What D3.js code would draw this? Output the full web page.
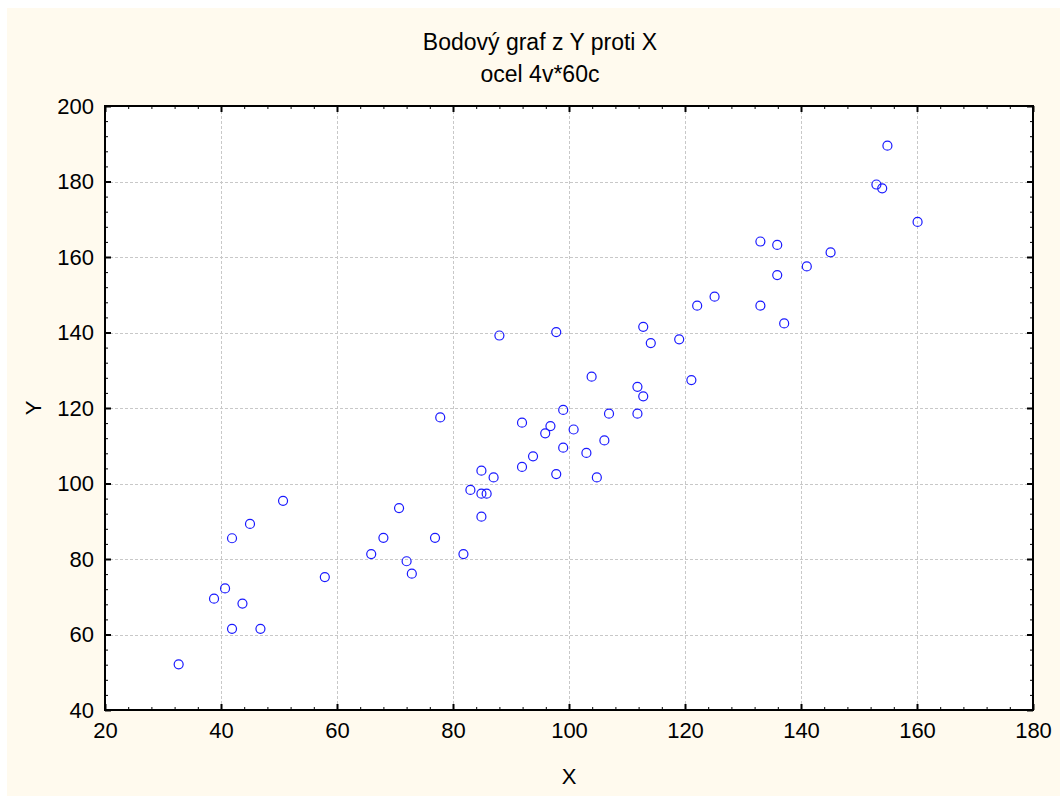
<!DOCTYPE html>
<html>
<head>
<meta charset="utf-8">
<script src="https://cdn.jsdelivr.net/npm/d3@7"></script>
<style>
  html, body { margin: 0; padding: 0; background: #ffffff; }
  svg { display: block; }
  text { font-family: "Liberation Sans", Arial, sans-serif; fill: #000; }
</style>
</head>
<body>
<svg id="chart" width="1060" height="796"></svg>
<script>
const title = "Bodový graf z Y proti X";
const subtitle = "ocel 4v*60c";
const xLabel = "X";
const yLabel = "Y";
const xTicks = [20, 40, 60, 80, 100, 120, 140, 160, 180];
const yTicks = [40, 60, 80, 100, 120, 140, 160, 180, 200];

const xValues = [32.7, 38.8, 40.7, 41.9, 41.9, 43.7, 45.0, 46.8, 50.7, 57.9,
  65.9, 68.0, 70.7, 72.0, 72.9, 76.9, 77.8, 81.8, 83.0, 84.9,
  85.8, 84.9, 84.9, 87.0, 88.0, 91.9, 91.9, 93.8, 95.9, 96.8,
  97.8, 97.8, 99.0, 99.0, 100.8, 103.0, 103.9, 104.8, 106.1, 106.9,
  111.8, 111.8, 112.8, 112.8, 114.1, 119.0, 121.1, 122.1, 125.1, 133.0,
  133.0, 135.9, 135.9, 137.1, 141.0, 145.1, 153.0, 154.0, 154.9, 160.1];
const yValues = [52.1, 69.5, 72.2, 61.5, 85.5, 68.2, 89.3, 61.5, 95.4, 75.2,
  81.3, 85.6, 93.5, 79.4, 76.1, 85.6, 117.5, 81.3, 98.3, 97.3,
  97.3, 91.2, 103.4, 101.6, 139.2, 116.1, 104.4, 107.2, 113.3, 115.2,
  140.1, 102.5, 119.5, 109.5, 114.3, 108.1, 128.3, 101.6, 111.4, 118.5,
  125.6, 118.5, 123.1, 141.5, 137.2, 138.2, 127.4, 147.1, 149.5, 164.1,
  147.1, 163.2, 155.2, 142.4, 157.5, 161.2, 179.2, 178.2, 189.5, 169.3];

const W = 1060, H = 796;
const plot = { left: 105, top: 106, right: 1033, bottom: 710 };

const svg = d3.select("#chart");

svg.append("rect").attr("x", 7).attr("y", 8).attr("width", W - 7).attr("height", H - 8)
  .attr("fill", "#fffaee");

const x = d3.scaleLinear().domain([20, 180]).range([plot.left, plot.right]);
const y = d3.scaleLinear().domain([40, 200]).range([plot.bottom, plot.top]);

svg.append("rect").attr("x", plot.left).attr("y", plot.top)
  .attr("width", plot.right - plot.left).attr("height", plot.bottom - plot.top)
  .attr("fill", "#ffffff");

// grid
const grid = svg.append("g").attr("stroke", "#c8c8c8").attr("stroke-width", 1).attr("stroke-dasharray", "3,2");
grid.selectAll("line.gx").data(xTicks.slice(1, -1)).join("line")
  .attr("x1", d => Math.round(x(d)) + 0.5).attr("x2", d => Math.round(x(d)) + 0.5)
  .attr("y1", plot.top).attr("y2", plot.bottom);
grid.selectAll("line.gy").data(yTicks.slice(1, -1)).join("line")
  .attr("y1", d => Math.round(y(d)) + 0.5).attr("y2", d => Math.round(y(d)) + 0.5)
  .attr("x1", plot.left).attr("x2", plot.right);

// minor ticks
const xMinor = d3.range(20, 180.01, 4);
const yMinor = d3.range(40, 200.01, 4);

function styleAxis(g) {
  g.select(".domain").remove();
  g.selectAll("line").attr("stroke", "#000").attr("stroke-width", 1);
  g.selectAll("text").style("font-size", "22px").style("font-family", "'Liberation Sans', Arial, sans-serif");
}

// bottom axis (labels + major ticks inward)
const gb = svg.append("g").attr("transform", `translate(0,${plot.bottom})`)
  .call(d3.axisBottom(x).tickValues(xTicks).tickSize(-6).tickPadding(12).tickFormat(d3.format("d")));
styleAxis(gb);
gb.selectAll("line").attr("stroke-width", 2);
svg.append("g").attr("transform", `translate(0,${plot.bottom})`)
  .call(d3.axisBottom(x).tickValues(xMinor).tickSize(-3).tickFormat(""))
  .call(styleAxis);

// top axis ticks inward
const gt = svg.append("g").attr("transform", `translate(0,${plot.top})`)
  .call(d3.axisTop(x).tickValues(xTicks).tickSize(-6).tickFormat(""));
styleAxis(gt);
gt.selectAll("line").attr("stroke-width", 2);
svg.append("g").attr("transform", `translate(0,${plot.top})`)
  .call(d3.axisTop(x).tickValues(xMinor).tickSize(-3).tickFormat(""))
  .call(styleAxis);

// left axis
const gl = svg.append("g").attr("transform", `translate(${plot.left},0)`)
  .call(d3.axisLeft(y).tickValues(yTicks).tickSize(-6).tickPadding(11).tickFormat(d3.format("d")));
styleAxis(gl);
gl.selectAll("line").attr("stroke-width", 2);
svg.append("g").attr("transform", `translate(${plot.left},0)`)
  .call(d3.axisLeft(y).tickValues(yMinor).tickSize(-3).tickFormat(""))
  .call(styleAxis);

// right axis
const gr = svg.append("g").attr("transform", `translate(${plot.right},0)`)
  .call(d3.axisRight(y).tickValues(yTicks).tickSize(-6).tickFormat(""));
styleAxis(gr);
gr.selectAll("line").attr("stroke-width", 2);
svg.append("g").attr("transform", `translate(${plot.right},0)`)
  .call(d3.axisRight(y).tickValues(yMinor).tickSize(-3).tickFormat(""))
  .call(styleAxis);

// frame
svg.append("rect").attr("x", plot.left).attr("y", plot.top)
  .attr("width", plot.right - plot.left).attr("height", plot.bottom - plot.top)
  .attr("fill", "none").attr("stroke", "#000").attr("stroke-width", 2);

// points
svg.append("g").selectAll("circle").data(xValues.map((v, i) => [v, yValues[i]])).join("circle")
  .attr("cx", d => x(d[0])).attr("cy", d => y(d[1])).attr("r", 4.5)
  .attr("fill", "none").attr("stroke", "#1a1aff").attr("stroke-width", 1.2);

// titles
svg.append("text").attr("x", 540).attr("y", 50).attr("text-anchor", "middle")
  .style("font-size", "23px").text(title);
svg.append("text").attr("x", 540).attr("y", 82).attr("text-anchor", "middle")
  .style("font-size", "23px").text(subtitle);

svg.append("text").attr("x", x(100)).attr("y", 784).attr("text-anchor", "middle")
  .style("font-size", "22px").text(xLabel);
svg.append("text").attr("transform", `translate(41,${y(120)}) rotate(-90)`).attr("text-anchor", "middle")
  .style("font-size", "22px").text(yLabel);
</script>
</body>
</html>
